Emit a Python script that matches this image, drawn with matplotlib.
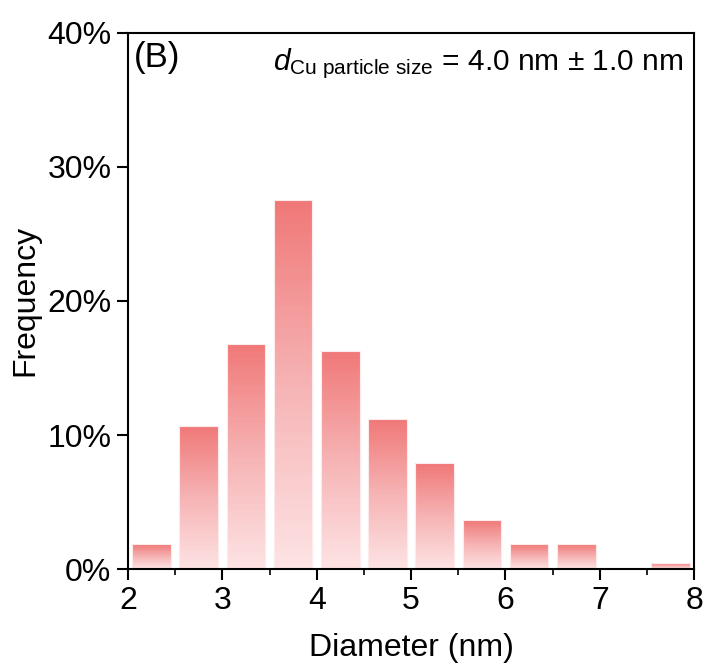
import matplotlib
matplotlib.use("Agg")
import matplotlib.pyplot as plt
import numpy as np
from matplotlib.colors import LinearSegmentedColormap
from matplotlib.ticker import FuncFormatter, MultipleLocator

# bin centres (nm) and frequency (%) of Cu particle diameters
diameters = [2.25, 2.75, 3.25, 3.75, 4.25, 4.75, 5.25, 5.75, 6.25, 6.75, 7.25, 7.75]
frequency = [1.87, 10.7, 16.8, 27.5, 16.3, 11.2, 7.9, 3.7, 1.87, 1.87, 0.0, 0.47]

plt.rcParams['font.family'] = ['Liberation Sans', 'DejaVu Sans']
plt.rcParams['mathtext.fontset'] = 'custom'
plt.rcParams['mathtext.rm'] = 'Liberation Sans'
plt.rcParams['mathtext.it'] = 'Liberation Sans:italic'

fig = plt.figure(figsize=(7.05, 6.68), dpi=100)
ax = fig.add_axes([0.1816, 0.1478, 0.8030, 0.8035])

# gradient from red (top) to pale pink (bottom) inside each bar,
# built from thin stacked slices of every bar
cmap = LinearSegmentedColormap.from_list('pinkgrad', ['#fde3e4', '#f6b3b4', '#f07878'])
n_slices = 80
freq = np.array(frequency)
for i in range(n_slices):
    ax.bar(diameters, freq / n_slices, bottom=freq * i / n_slices, width=0.41,
           color=cmap((i + 0.5) / n_slices), linewidth=0, antialiased=False, zorder=2)
# thin light outline around each bar
ax.bar(diameters, frequency, width=0.41, facecolor='none',
       edgecolor='#fdeaea', linewidth=0.8, zorder=3)

ax.set_xlim(2, 8)
ax.set_ylim(0, 40)
ax.xaxis.set_major_locator(MultipleLocator(1))
ax.xaxis.set_minor_locator(MultipleLocator(0.5))
ax.yaxis.set_major_locator(MultipleLocator(10))
ax.yaxis.set_major_formatter(FuncFormatter(lambda v, p: f'{v:.0f}%'))

for s in ax.spines.values():
    s.set_linewidth(1.5)
    s.set_zorder(4)
ax.tick_params(which='major', direction='out', length=8, width=1.5, labelsize=23, pad=4)
ax.tick_params(which='minor', direction='out', length=4, width=1.2)

ax.set_xlabel('Diameter (nm)', fontsize=23, labelpad=12)
ax.set_ylabel('Frequency', fontsize=23, labelpad=5)

ax.text(0.01, 0.985, '(B)', transform=ax.transAxes, fontsize=25, va='top', ha='left')
ax.text(0.98, 0.975, r'$d_{\mathrm{Cu\ particle\ size}}$ = 4.0 nm $\pm$ 1.0 nm',
        transform=ax.transAxes, fontsize=21.5, va='top', ha='right')

fig.savefig('out.png', dpi=100)
